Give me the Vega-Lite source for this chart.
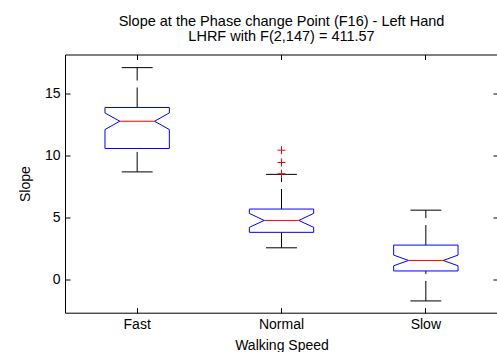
{
  "$schema": "https://vega.github.io/schema/vega-lite/v6.json",
  "autosize": "none",
  "width": 433,
  "height": 258.2,
  "padding": {"left": 65, "top": 54.5, "right": 0, "bottom": 39.3},
  "background": "white",
  "title": {
    "text": ["Slope at the Phase change Point (F16) - Left Hand", "LHRF with F(2,147) = 411.57"],
    "font": "Liberation Sans", "fontSize": 14.5, "fontWeight": "normal", "color": "black",
    "anchor": "middle", "frame": "group", "offset": 10, "lineHeight": 15
  },
  "datasets": {
    "stats": [
      {"speed": "Fast", "wlo": 8.65, "q1": 10.54, "nlo": 12.07, "med": 12.74, "nhi": 13.41, "q3": 13.85, "whi": 17.07},
      {"speed": "Normal", "wlo": 2.52, "q1": 3.77, "nlo": 4.17, "med": 4.73, "nhi": 5.3, "q3": 5.65, "whi": 8.45},
      {"speed": "Slow", "wlo": -1.77, "q1": 0.65, "nlo": 1.07, "med": 1.5, "nhi": 1.93, "q3": 2.74, "whi": 5.56}
    ],
    "outliers": [
      {"speed": "Normal", "value": 10.4},
      {"speed": "Normal", "value": 9.41},
      {"speed": "Normal", "value": 8.5}
    ]
  },
  "resolve": {"axis": {"x": "independent", "y": "independent"}},
  "layer": [
    {
      "data": {"name": "stats"},
      "layer": [
        {"mark": {"type": "rule", "color": "black", "strokeWidth": 1, "strokeDash": [20, 7]},
         "encoding": {
           "x": {"field": "speed", "type": "nominal", "bandPosition": 0.5, "title": "Walking Speed", "scale": {"type": "band", "domain": ["Fast", "Normal", "Slow"], "paddingInner": 0, "paddingOuter": 0}},
           "y": {"field": "q3", "type": "quantitative", "title": "Slope", "scale": {"domain": [-2.72, 18.13], "nice": false, "zero": false}, "axis": {"values": [0, 5, 10, 15]}},
           "y2": {"field": "whi"}}},
        {"mark": {"type": "rule", "color": "black", "strokeWidth": 1, "strokeDash": [20, 7]},
         "encoding": {
           "x": {"field": "speed", "type": "nominal", "bandPosition": 0.5, "title": "Walking Speed", "scale": {"type": "band", "domain": ["Fast", "Normal", "Slow"], "paddingInner": 0, "paddingOuter": 0}},
           "y": {"field": "wlo", "type": "quantitative", "title": "Slope", "scale": {"domain": [-2.72, 18.13], "nice": false, "zero": false}},
           "y2": {"field": "q1"}}},
        {"mark": {"type": "rule", "color": "black", "strokeWidth": 1},
         "encoding": {
           "x": {"field": "speed", "type": "nominal", "bandPosition": 0.393, "title": "Walking Speed", "scale": {"type": "band", "domain": ["Fast", "Normal", "Slow"], "paddingInner": 0, "paddingOuter": 0}},
           "x2": {"field": "speed", "bandPosition": 0.607},
           "y": {"field": "whi", "type": "quantitative", "title": "Slope", "scale": {"domain": [-2.72, 18.13], "nice": false, "zero": false}}}},
        {"mark": {"type": "rule", "color": "black", "strokeWidth": 1},
         "encoding": {
           "x": {"field": "speed", "type": "nominal", "bandPosition": 0.393, "title": "Walking Speed", "scale": {"type": "band", "domain": ["Fast", "Normal", "Slow"], "paddingInner": 0, "paddingOuter": 0}},
           "x2": {"field": "speed", "bandPosition": 0.607},
           "y": {"field": "wlo", "type": "quantitative", "title": "Slope", "scale": {"domain": [-2.72, 18.13], "nice": false, "zero": false}}}},
        {"mark": {"type": "rule", "color": "#0000ff", "strokeWidth": 1},
         "encoding": {
           "x": {"field": "speed", "type": "nominal", "bandPosition": 0.277, "title": "Walking Speed", "scale": {"type": "band", "domain": ["Fast", "Normal", "Slow"], "paddingInner": 0, "paddingOuter": 0}},
           "x2": {"field": "speed", "bandPosition": 0.723},
           "y": {"field": "q3", "type": "quantitative", "title": "Slope", "scale": {"domain": [-2.72, 18.13], "nice": false, "zero": false}}}},
        {"mark": {"type": "rule", "color": "#0000ff", "strokeWidth": 1},
         "encoding": {
           "x": {"field": "speed", "type": "nominal", "bandPosition": 0.277, "title": "Walking Speed", "scale": {"type": "band", "domain": ["Fast", "Normal", "Slow"], "paddingInner": 0, "paddingOuter": 0}},
           "x2": {"field": "speed", "bandPosition": 0.723},
           "y": {"field": "q1", "type": "quantitative", "title": "Slope", "scale": {"domain": [-2.72, 18.13], "nice": false, "zero": false}}}},
        {"mark": {"type": "rule", "color": "#0000ff", "strokeWidth": 1},
         "encoding": {
           "x": {"field": "speed", "type": "nominal", "bandPosition": 0.277, "title": "Walking Speed", "scale": {"type": "band", "domain": ["Fast", "Normal", "Slow"], "paddingInner": 0, "paddingOuter": 0}},
           "y": {"field": "nhi", "type": "quantitative", "title": "Slope", "scale": {"domain": [-2.72, 18.13], "nice": false, "zero": false}},
           "y2": {"field": "q3"}}},
        {"mark": {"type": "rule", "color": "#0000ff", "strokeWidth": 1},
         "encoding": {
           "x": {"field": "speed", "type": "nominal", "bandPosition": 0.277, "title": "Walking Speed", "scale": {"type": "band", "domain": ["Fast", "Normal", "Slow"], "paddingInner": 0, "paddingOuter": 0}},
           "y": {"field": "q1", "type": "quantitative", "title": "Slope", "scale": {"domain": [-2.72, 18.13], "nice": false, "zero": false}},
           "y2": {"field": "nlo"}}},
        {"mark": {"type": "rule", "color": "#0000ff", "strokeWidth": 1},
         "encoding": {
           "x": {"field": "speed", "type": "nominal", "bandPosition": 0.723, "title": "Walking Speed", "scale": {"type": "band", "domain": ["Fast", "Normal", "Slow"], "paddingInner": 0, "paddingOuter": 0}},
           "y": {"field": "nhi", "type": "quantitative", "title": "Slope", "scale": {"domain": [-2.72, 18.13], "nice": false, "zero": false}},
           "y2": {"field": "q3"}}},
        {"mark": {"type": "rule", "color": "#0000ff", "strokeWidth": 1},
         "encoding": {
           "x": {"field": "speed", "type": "nominal", "bandPosition": 0.723, "title": "Walking Speed", "scale": {"type": "band", "domain": ["Fast", "Normal", "Slow"], "paddingInner": 0, "paddingOuter": 0}},
           "y": {"field": "q1", "type": "quantitative", "title": "Slope", "scale": {"domain": [-2.72, 18.13], "nice": false, "zero": false}},
           "y2": {"field": "nlo"}}},
        {"mark": {"type": "rule", "color": "#0000ff", "strokeWidth": 1},
         "encoding": {
           "x": {"field": "speed", "type": "nominal", "bandPosition": 0.277, "title": "Walking Speed", "scale": {"type": "band", "domain": ["Fast", "Normal", "Slow"], "paddingInner": 0, "paddingOuter": 0}},
           "x2": {"field": "speed", "bandPosition": 0.38},
           "y": {"field": "nhi", "type": "quantitative", "title": "Slope", "scale": {"domain": [-2.72, 18.13], "nice": false, "zero": false}},
           "y2": {"field": "med"}}},
        {"mark": {"type": "rule", "color": "#0000ff", "strokeWidth": 1},
         "encoding": {
           "x": {"field": "speed", "type": "nominal", "bandPosition": 0.277, "title": "Walking Speed", "scale": {"type": "band", "domain": ["Fast", "Normal", "Slow"], "paddingInner": 0, "paddingOuter": 0}},
           "x2": {"field": "speed", "bandPosition": 0.38},
           "y": {"field": "nlo", "type": "quantitative", "title": "Slope", "scale": {"domain": [-2.72, 18.13], "nice": false, "zero": false}},
           "y2": {"field": "med"}}},
        {"mark": {"type": "rule", "color": "#0000ff", "strokeWidth": 1},
         "encoding": {
           "x": {"field": "speed", "type": "nominal", "bandPosition": 0.723, "title": "Walking Speed", "scale": {"type": "band", "domain": ["Fast", "Normal", "Slow"], "paddingInner": 0, "paddingOuter": 0}},
           "x2": {"field": "speed", "bandPosition": 0.62},
           "y": {"field": "nhi", "type": "quantitative", "title": "Slope", "scale": {"domain": [-2.72, 18.13], "nice": false, "zero": false}},
           "y2": {"field": "med"}}},
        {"mark": {"type": "rule", "color": "#0000ff", "strokeWidth": 1},
         "encoding": {
           "x": {"field": "speed", "type": "nominal", "bandPosition": 0.723, "title": "Walking Speed", "scale": {"type": "band", "domain": ["Fast", "Normal", "Slow"], "paddingInner": 0, "paddingOuter": 0}},
           "x2": {"field": "speed", "bandPosition": 0.62},
           "y": {"field": "nlo", "type": "quantitative", "title": "Slope", "scale": {"domain": [-2.72, 18.13], "nice": false, "zero": false}},
           "y2": {"field": "med"}}},
        {"mark": {"type": "rule", "color": "#ff0000", "strokeWidth": 1},
         "encoding": {
           "x": {"field": "speed", "type": "nominal", "bandPosition": 0.38, "title": "Walking Speed", "scale": {"type": "band", "domain": ["Fast", "Normal", "Slow"], "paddingInner": 0, "paddingOuter": 0}},
           "x2": {"field": "speed", "bandPosition": 0.62},
           "y": {"field": "med", "type": "quantitative", "title": "Slope", "scale": {"domain": [-2.72, 18.13], "nice": false, "zero": false}}}}
      ]
    },
    {
      "data": {"name": "outliers"},
      "mark": {"type": "point", "shape": "M-1,0L1,0M0,-1L0,1", "filled": false, "stroke": "#ff0000", "strokeWidth": 1, "size": 64, "opacity": 1},
      "encoding": {
        "x": {"field": "speed", "type": "nominal", "scale": {"type": "band", "domain": ["Fast", "Normal", "Slow"], "paddingInner": 0, "paddingOuter": 0}, "axis": {"orient": "top", "labels": false, "title": null}},
        "y": {"field": "value", "type": "quantitative", "scale": {"domain": [-2.72, 18.13], "nice": false, "zero": false}, "axis": {"orient": "right", "labels": false, "title": null, "values": [0, 5, 10, 15]}}
      }
    }
  ],
  "config": {
    "view": {"stroke": "black", "strokeWidth": 1},
    "axis": {
      "domain": false, "grid": false, "ticks": true, "tickColor": "black", "tickSize": -5, "tickWidth": 1,
      "labelColor": "black", "labelFont": "Liberation Sans", "labelFontSize": 14,
      "titleFont": "Liberation Sans", "titleFontSize": 14, "titleFontWeight": "normal", "titleColor": "black"
    },
    "axisX": {"labelAngle": 0, "labelPadding": 10, "titlePadding": 7},
    "axisY": {"labelPadding": 10, "titlePadding": 12}
  }
}
